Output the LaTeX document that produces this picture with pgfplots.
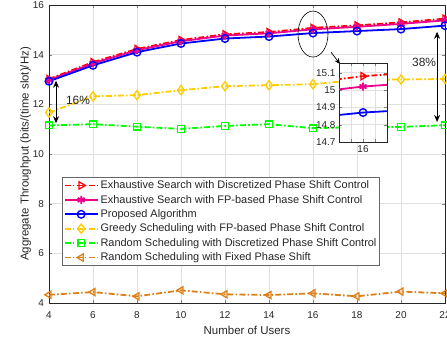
\documentclass[border=0pt]{standalone}
\usepackage{pgfplots}
\pgfplotsset{compat=1.18}
\usepackage{fontspec}
\setmainfont{Liberation Sans}
\usetikzlibrary{arrows.meta}
\definecolor{gold}{rgb}{1,0.8,0}
\definecolor{orng}{rgb}{0.87,0.5,0.1}
\definecolor{gridc}{rgb}{0.88,0.88,0.88}
\definecolor{txtc}{rgb}{0.15,0.15,0.15}
\pgfplotstableread{
x red mag blue gold green orng
4 13.02 12.98 12.93 11.67 11.15 4.33
6 13.70 13.65 13.57 12.32 11.20 4.44
8 14.23 14.18 14.10 12.37 11.10 4.27
10 14.59 14.54 14.45 12.57 11.01 4.51
12 14.82 14.77 14.65 12.73 11.13 4.35
14 14.91 14.86 14.73 12.77 11.20 4.32
16 15.08 15.02 14.87 12.81 11.04 4.39
18 15.18 15.12 14.95 12.98 11.08 4.27
20 15.30 15.24 15.03 13.00 11.09 4.46
22 15.45 15.38 15.17 13.02 11.16 4.39
}\datatab
\pgfplotsset{
  mstyle/.style={
    /pgf/number format/assume math mode=true,
    tick label style={font=\fontsize{10}{12}\selectfont, text=txtc},
    tick align=inside,
    major tick length=3bp,
    grid=major,
    grid style={gridc, line width=0.5pt},
    axis line style={black!85, line width=0.6pt},
    scale only axis,
  },
  myleg/.style={legend image code/.code={\draw[mark repeat=2, mark phase=2] plot coordinates {(0bp,0bp) (16.5bp,0bp) (33bp,0bp)};}},
  dd/.style={dash pattern=on 6pt off 2.2pt on 1.6pt off 2.2pt},
  sred/.style={myleg, red, line width=1.8pt, dd, mark=triangle, mark size=4.2bp, mark options={solid, rotate=-90, line width=1.3pt}},
  smag/.style={myleg, magenta, line width=1.8pt, mark=asterisk, mark size=4bp, mark options={solid, line width=1.8pt}},
  sblue/.style={myleg, blue, line width=1.8pt, mark=o, mark size=3.8bp, mark options={solid, line width=1.4pt}},
  sgold/.style={myleg, gold, line width=1.8pt, dd, mark=diamond, mark size=4.6bp, mark options={solid, line width=1.3pt}},
  sgreen/.style={myleg, green, line width=1.8pt, dd, mark=square, mark size=3.3bp, mark options={solid, line width=1.3pt}},
  sorng/.style={myleg, orng, line width=1.8pt, dd, mark=triangle, mark size=4.2bp, mark options={solid, rotate=90, line width=1.3pt}},
}
\begin{document}
\begin{tikzpicture}
\begin{axis}[mstyle,
  at={(0,0)}, anchor=south west,
  width=396bp, height=298bp,
  xmin=4, xmax=22, ymin=4, ymax=16,
  xtick={4,6,...,22}, ytick={4,6,...,16},
  xticklabel style={yshift=-5bp},
  yticklabel style={xshift=-1.5bp},
  xlabel={Number of Users},
  ylabel={Aggregate Throughput (bits/(time slot)/Hz)},
  label style={font=\fontsize{11.5}{13}\selectfont, text=txtc},
  xlabel style={yshift=-1bp},
  ylabel style={yshift=-5bp},
  legend style={at={(0.034,0.423)}, anchor=north west, draw=black!60, line width=0.6pt,
    font=\fontsize{11}{13}\selectfont, text=txtc, row sep=1bp, inner xsep=1bp, inner ysep=1.5bp},
  legend cell align=left,
]
\addplot[sred] table[x=x, y=red] {\datatab};
\addlegendentry{Exhaustive Search with Discretized Phase Shift Control}
\addplot[smag] table[x=x, y=mag] {\datatab};
\addlegendentry{Exhaustive Search with FP-based Phase Shift Control}
\addplot[sblue] table[x=x, y=blue] {\datatab};
\addlegendentry{Proposed Algorithm}
\addplot[sgold] table[x=x, y=gold] {\datatab};
\addlegendentry{Greedy Scheduling with FP-based Phase Shift Control}
\addplot[sgreen] table[x=x, y=green] {\datatab};
\addlegendentry{Random Scheduling with Discretized Phase Shift Control}
\addplot[sorng] table[x=x, y=orng] {\datatab};
\addlegendentry{Random Scheduling with Fixed Phase Shift}
% annotations
\draw[line width=0.9pt, {Stealth[length=7bp,width=6bp]}-{Stealth[length=7bp,width=6bp]}] (axis cs:4.32,12.95) -- (axis cs:4.32,11.24);
\node[font=\fontsize{12}{14}\selectfont, text=txtc] at (axis cs:5.32,12.17) {16\%};
\draw[line width=0.9pt, {Stealth[length=7bp,width=6bp]}-{Stealth[length=7bp,width=6bp]}] (axis cs:21.64,14.92) -- (axis cs:21.64,11.29);
\node[font=\fontsize{12}{14}\selectfont, text=txtc] at (axis cs:21.05,13.67) {38\%};
\draw[black, line width=0.6pt] (axis cs:16,14.83) ellipse [x radius=15bp, y radius=23bp];
\draw[line width=0.7pt, -{Stealth[length=6bp,width=5bp]}] (axis cs:16.82,14.10) -- (axis cs:17.23,13.62);
\end{axis}
\begin{axis}[mstyle,
  at={(290bp,161bp)}, anchor=south west,
  width=48bp, height=79bp,
  xmin=15.8, xmax=16.2, ymin=14.7, ymax=15.156,
  xtick={15.9,16,16.1}, xticklabels={,16,},
  ytick={14.7,14.8,14.9,15,15.1},
  yticklabel style={/pgf/number format/fixed, /pgf/number format/precision=1},
  axis background/.style={fill=white},
  clip=true,
]
\addplot[sred] table[x=x, y=red] {\datatab};
\addplot[smag] table[x=x, y=mag] {\datatab};
\addplot[sblue] table[x=x, y=blue] {\datatab};
\end{axis}
\pgfresetboundingbox
\path[use as bounding box] (-49bp,-38bp) rectangle (398bp,303bp);
\end{tikzpicture}
\end{document}
